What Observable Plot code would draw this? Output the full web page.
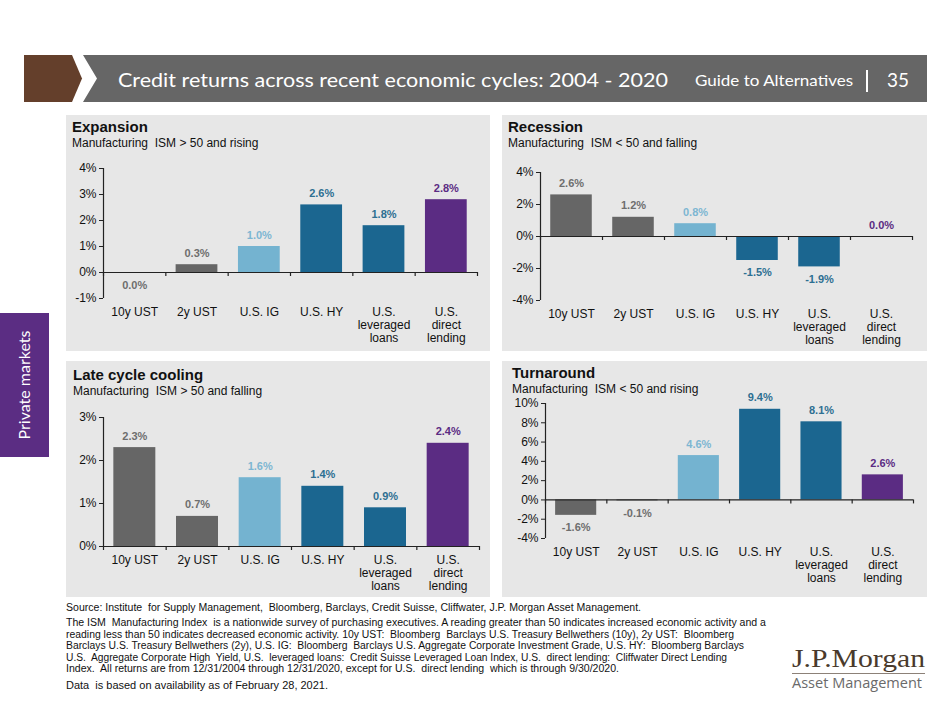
<!DOCTYPE html>
<html><head><meta charset="utf-8">
<script src="https://cdn.jsdelivr.net/npm/d3@7"></script>
<script src="https://cdn.jsdelivr.net/npm/@observablehq/plot@0.6"></script>
<style>
body{margin:0;background:#fff;}
#page{position:relative;width:949px;height:712px;overflow:hidden;font-family:"Liberation Sans",Arial,sans-serif;}
#deco{position:absolute;left:0;top:0;}
#deco text{white-space:pre;}
.chart{position:absolute;}
.chart svg{overflow:visible;}
</style></head><body>
<div id="page">
<svg id="deco" width="949" height="712" xmlns="http://www.w3.org/2000/svg">
  <polygon points="24,55 72,55 82,78.5 72,102 24,102" fill="#643f2b"/>
  <polygon points="83,55 927,55 927,102 83,102 97,78.5" fill="#666666"/>
  <text x="118" y="87" font-family="Lato" font-size="20" fill="#fff" textLength="550" lengthAdjust="spacingAndGlyphs">Credit returns across recent economic cycles: 2004 - 2020</text>
  <text x="695" y="86" font-family="Lato" font-size="15" fill="#fff" textLength="158" lengthAdjust="spacingAndGlyphs">Guide to Alternatives</text>
  <line x1="867" y1="70" x2="867" y2="92" stroke="#fff" stroke-width="2"/>
  <text x="887" y="87" font-family="Lato" font-size="20" fill="#fff" textLength="22" lengthAdjust="spacingAndGlyphs">35</text>

  <rect x="0" y="313" width="49" height="144" fill="#5b2d83"/>
  <text transform="translate(30,385) rotate(-90)" text-anchor="middle" font-family="Lato" font-size="15" fill="#fff" textLength="109" lengthAdjust="spacingAndGlyphs">Private markets</text>

  <rect x="66" y="115" width="424" height="236" fill="#e7e7e7"/>
  <rect x="502" y="115" width="425" height="236" fill="#e7e7e7"/>
  <rect x="66" y="361" width="424" height="236" fill="#e7e7e7"/>
  <rect x="502" y="361" width="425" height="236" fill="#e7e7e7"/>

  <g font-family="Liberation Sans, Arial, sans-serif" fill="#111">
    <text x="72" y="131.5" font-size="15" font-weight="bold">Expansion</text>
    <text x="72" y="146.5" font-size="12">Manufacturing  ISM &gt; 50 and rising</text>
    <text x="508" y="131.5" font-size="15" font-weight="bold">Recession</text>
    <text x="508" y="146.5" font-size="12">Manufacturing  ISM &lt; 50 and falling</text>
    <text x="73" y="379.5" font-size="15" font-weight="bold">Late cycle cooling</text>
    <text x="73" y="394.5" font-size="12">Manufacturing  ISM &gt; 50 and falling</text>
    <text x="512" y="378" font-size="15" font-weight="bold">Turnaround</text>
    <text x="512" y="393" font-size="12">Manufacturing  ISM &lt; 50 and rising</text>
  </g>

  <g font-family="Liberation Sans, Arial, sans-serif" font-size="10" fill="#111">
    <text x="66" y="611" textLength="575" lengthAdjust="spacingAndGlyphs">Source: Institute  for Supply Management,  Bloomberg, Barclays, Credit Suisse, Cliffwater, J.P. Morgan Asset Management.</text>
    <text x="66" y="626" textLength="700" lengthAdjust="spacingAndGlyphs">The ISM  Manufacturing Index  is a nationwide survey of purchasing executives. A reading greater than 50 indicates increased economic activity and a</text>
    <text x="66" y="637.5" textLength="668" lengthAdjust="spacingAndGlyphs">reading less than 50 indicates decreased economic activity. 10y UST:  Bloomberg  Barclays U.S. Treasury Bellwethers (10y), 2y UST:  Bloomberg</text>
    <text x="66" y="649" textLength="678" lengthAdjust="spacingAndGlyphs">Barclays U.S. Treasury Bellwethers (2y), U.S. IG:  Bloomberg  Barclays U.S. Aggregate Corporate Investment Grade, U.S. HY:  Bloomberg Barclays</text>
    <text x="66" y="660.5" textLength="661" lengthAdjust="spacingAndGlyphs">U.S.  Aggregate Corporate High  Yield, U.S.  leveraged loans:  Credit Suisse Leveraged Loan Index, U.S.  direct lending:  Cliffwater Direct Lending</text>
    <text x="66" y="672" textLength="553" lengthAdjust="spacingAndGlyphs">Index.  All returns are from 12/31/2004 through 12/31/2020, except for U.S.  direct lending  which is through 9/30/2020.</text>
    <text x="66" y="689" textLength="262" lengthAdjust="spacingAndGlyphs">Data  is based on availability as of February 28, 2021.</text>
  </g>

  <text x="792" y="667" font-family="Liberation Serif, DejaVu Serif, serif" font-size="26" fill="#4a3a2c" textLength="133" lengthAdjust="spacingAndGlyphs">J.P.Morgan</text>
  <line x1="792" y1="673.5" x2="925" y2="673.5" stroke="#8c8178" stroke-width="1"/>
  <text x="792" y="688" font-family="Open Sans, Lato, sans-serif" font-size="15" fill="#6a6a6a" textLength="130" lengthAdjust="spacingAndGlyphs">Asset Management</text>
</svg>
<div id="c1" class="chart" style="left:66px;top:150px"></div>
<div id="c2" class="chart" style="left:502px;top:150px"></div>
<div id="c3" class="chart" style="left:66px;top:395px"></div>
<div id="c4" class="chart" style="left:502px;top:385px"></div>
</div>
<script>
// ---- data ----
const categories = ["10y UST", "2y UST", "U.S. IG", "U.S. HY", "U.S. leveraged loans", "U.S. direct lending"];
const tickLabels = ["10y UST", "2y UST", "U.S. IG", "U.S. HY", "U.S.\nleveraged\nloans", "U.S.\ndirect\nlending"];
const expansionValues = [-0.03, 0.3, 1.0, 2.6, 1.8, 2.8];
const recessionValues = [2.6, 1.2, 0.8, -1.5, -1.9, 0.0];
const lateCycleValues = [2.3, 0.7, 1.6, 1.4, 0.9, 2.4];
const turnaroundValues = [-1.6, -0.1, 4.6, 9.4, 8.1, 2.6];
const expansionTicks = [-1, 0, 1, 2, 3, 4];
const recessionTicks = [-4, -2, 0, 2, 4];
const lateCycleTicks = [0, 1, 2, 3];
const turnaroundTicks = [-4, -2, 0, 2, 4, 6, 8, 10];

// ---- styles ----
const barColors = ["#666666", "#666666", "#74b3d0", "#1b6690", "#1b6690", "#5b2c83"];
const labelColors = ["#6e6e6e", "#6e6e6e", "#7db6d2", "#2d6f92", "#2d6f92", "#5b2c83"];
const labelOf = new Map(categories.map((c, i) => [c, tickLabels[i]]));
const labelColorOf = new Map(categories.map((c, i) => [c, labelColors[i]]));
const fmt = v => ((Math.round(v * 10) / 10) || 0).toFixed(1) + "%";
const axisStroke = "#222";

function chart(el, values, ticks, L) {
  const rows = categories.map((c, i) => ({category: c, value: values[i]}));
  const plotW = L.width - L.ml - L.mr;
  const plotH = L.height - L.mt - L.mb;
  const step = plotW / categories.length;
  const span = ticks[ticks.length - 1] - ticks[0];
  const tickLen = 4 * span / plotH;
  // frame-relative rules (no x channel → centred in the frame, shifted by dx)
  const boundaryTicks = d3.range(categories.length + 1).map(i =>
    Plot.ruleX([0], {x: null, dx: -plotW / 2 + i * step, y1: 0, y2: -tickLen, stroke: axisStroke, strokeWidth: 1.2}));
  const svg = Plot.plot({
    width: L.width, height: L.height,
    marginLeft: L.ml, marginRight: L.mr, marginTop: L.mt, marginBottom: L.mb,
    style: {background: "transparent", fontFamily: "Liberation Sans, Arial, sans-serif", fontSize: "12px", color: "#111", overflow: "visible"},
    x: {domain: categories, paddingInner: 0.33, paddingOuter: 0.165, round: false, label: null},
    y: {domain: [ticks[0], ticks[ticks.length - 1]], label: null},
    color: {domain: categories, range: barColors},
    marks: [
      Plot.barY(rows, {x: "category", y: "value", fill: "category"}),
      Plot.ruleY([0], {stroke: axisStroke, strokeWidth: 1.2}),
      Plot.ruleX([0], {x: null, dx: -plotW / 2, stroke: axisStroke, strokeWidth: 1.2}),
      ...boundaryTicks,
      Plot.axisY({ticks, tickFormat: d => d + "%", tickSize: 4, tickPadding: 3, fontSize: 12, stroke: axisStroke}),
      Plot.axisX({tickSize: 0, tickPadding: 8, tickFormat: c => labelOf.get(c), fontSize: 12, lineHeight: 1.1}),
      Plot.text(rows, {filter: d => d.value >= 0, x: "category", y: "value", text: d => fmt(d.value), dy: -8, lineAnchor: "bottom",
        fill: d => labelColorOf.get(d.category), fontWeight: "bold", fontSize: 11}),
      Plot.text(rows, {filter: d => d.value < 0, x: "category", y: "value", text: d => fmt(d.value), dy: 8, lineAnchor: "top",
        fill: d => labelColorOf.get(d.category), fontWeight: "bold", fontSize: 11})
    ]
  });
  document.getElementById(el).append(svg);
}

chart("c1", expansionValues, expansionTicks, {width: 424, height: 201, ml: 37, mr: 13, mt: 18, mb: 53});
chart("c2", recessionValues, recessionTicks, {width: 425, height: 201, ml: 38, mr: 15, mt: 22, mb: 51});
chart("c3", lateCycleValues, lateCycleTicks, {width: 424, height: 202, ml: 37, mr: 11, mt: 22, mb: 51});
chart("c4", turnaroundValues, turnaroundTicks, {width: 425, height: 212, ml: 43, mr: 14, mt: 18, mb: 59});
</script>
</body></html>
